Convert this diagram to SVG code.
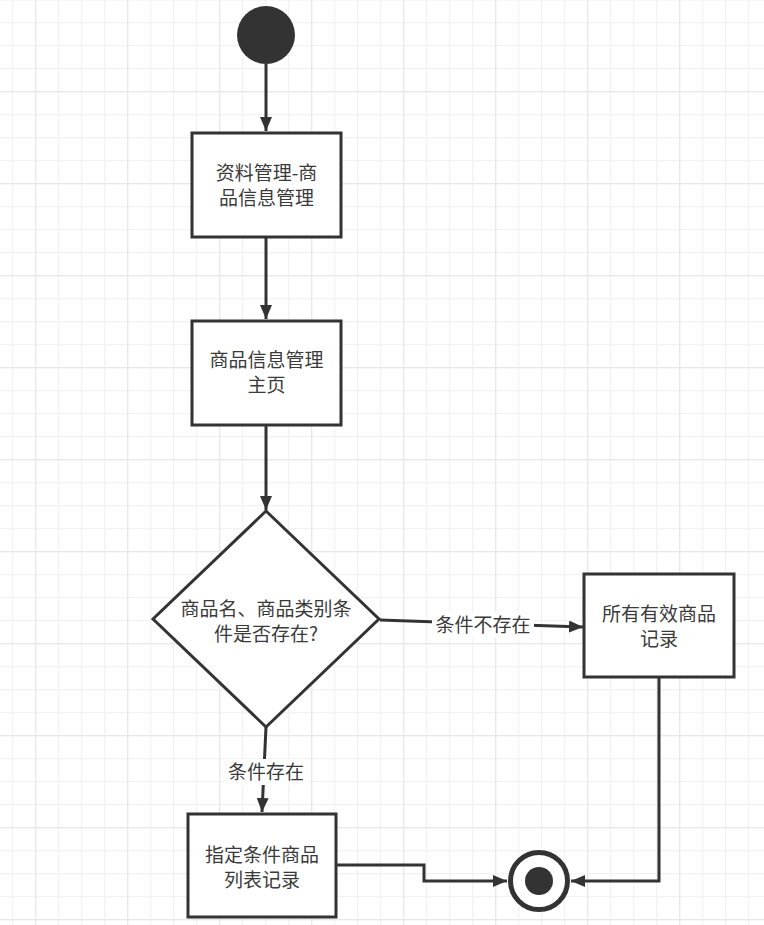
<svg xmlns="http://www.w3.org/2000/svg" width="764" height="925" viewBox="0 0 764 925">
<defs>
<pattern id="minor" x="12" y="22" width="23" height="23" patternUnits="userSpaceOnUse">
<path d="M0.5 0V23M0 0.5H23" fill="none" stroke="#f2f2f2" stroke-width="1.5"/>
</pattern>
<pattern id="major" x="35" y="-1" width="92" height="92" patternUnits="userSpaceOnUse">
<path d="M0.5 0V92M0 0.5H92" fill="none" stroke="#e8e8e8" stroke-width="1.5"/>
</pattern>
<marker id="arr" viewBox="0 0 14 12" refX="14" refY="6" markerWidth="14" markerHeight="12" markerUnits="userSpaceOnUse" orient="auto">
<path d="M0 0L14 6L0 12Z" fill="#333"/>
</marker>
</defs>
<style>
.box{fill:#fff;stroke:#333;stroke-width:3}
.ln{fill:none;stroke:#333;stroke-width:3}
.t{font-family:"Microsoft YaHei","Noto Sans CJK SC",sans-serif;font-size:19px;fill:#3a3a3a;text-anchor:middle}
.lb{fill:#fff}
</style>
<rect width="764" height="925" fill="#fff"/>
<rect width="764" height="925" fill="url(#minor)"/>
<rect width="764" height="925" fill="url(#major)"/>

<g id="connectors">
<path class="ln" d="M266 64V131" marker-end="url(#arr)"/>
<path class="ln" d="M266 238V319" marker-end="url(#arr)"/>
<path class="ln" d="M266 426V510" marker-end="url(#arr)"/>
<path class="ln" d="M380 620L583 627" marker-end="url(#arr)"/>
<rect class="lb" x="432" y="612" width="102" height="26"/>
<text class="t" x="483" y="632">条件不存在</text>
<path class="ln" d="M266 727L262 812" marker-end="url(#arr)"/>
<rect class="lb" x="224" y="759" width="84" height="26"/>
<text class="t" x="266" y="779">条件存在</text>
<path class="ln" d="M336 865H424V881H507" marker-end="url(#arr)"/>
<path class="ln" d="M659 678V881H571" marker-end="url(#arr)"/>
</g>

<g id="start">
<circle cx="266" cy="35" r="29" fill="#333"/>
</g>

<g id="n1">
<rect class="box" x="192" y="133" width="149" height="104"/>
<text class="t" x="266.5" y="180">资料管理-商</text>
<text class="t" x="266.5" y="205">品信息管理</text>
</g>

<g id="n2">
<rect class="box" x="192" y="321" width="149" height="104"/>
<text class="t" x="266.5" y="367">商品信息管理</text>
<text class="t" x="266.5" y="392">主页</text>
</g>

<g id="decision">
<path class="box" d="M266 511L379 619L266 727L153 619Z"/>
<text class="t" x="266" y="616">商品名、商品类别条</text>
<text class="t" x="266" y="641">件是否存在?</text>
</g>

<g id="n3">
<rect class="box" x="584" y="574" width="150" height="103"/>
<text class="t" x="659" y="621">所有有效商品</text>
<text class="t" x="659" y="646">记录</text>
</g>

<g id="n4">
<rect class="box" x="188" y="814" width="148" height="103"/>
<text class="t" x="262" y="862">指定条件商品</text>
<text class="t" x="262" y="887">列表记录</text>
</g>

<g id="end">
<circle cx="539" cy="881" r="28.5" fill="#fff" stroke="#333" stroke-width="5"/>
<circle cx="539" cy="881" r="14" fill="#333"/>
</g>
</svg>
